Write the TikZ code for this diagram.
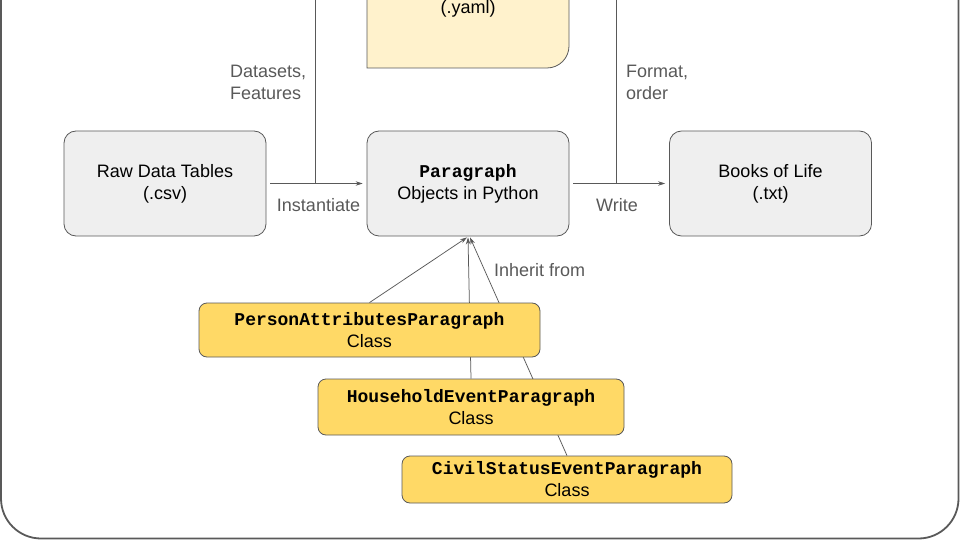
\documentclass[tikz,border=0pt]{standalone}
\usepackage{fontspec}
\setmainfont{Liberation Sans}
\setmonofont{Liberation Mono}
\usetikzlibrary{arrows.meta,backgrounds,calc}
\definecolor{lineC}{HTML}{595959}
\definecolor{grayF}{HTML}{EFEFEF}
\definecolor{yelF}{HTML}{FFD966}
\definecolor{paleF}{HTML}{FFF2CC}
\tikzset{
  graybox/.style={draw=lineC, fill=grayF, rounded corners=12pt, minimum width=202pt, minimum height=105pt, align=center, line width=0.8pt, text=black, inner sep=0pt},
  classbox/.style={draw=lineC, fill=yelF, rounded corners=8pt, align=center, line width=0.8pt, text=black, inner sep=0pt},
  lbl/.style={text=lineC, inner sep=0pt},
  conn/.style={draw=lineC, line width=0.75pt},
  arr/.style={conn, -{Stealth[length=7pt,width=4.5pt]}},
}
\begin{document}
\begin{tikzpicture}[x=1pt,y=-1pt, font=\fontsize{18}{22}\selectfont]
\useasboundingbox (0,0) rectangle (960,540);
\clip (0,0) rectangle (960,540);
% outer frame
\draw[draw=lineC, line width=1.8pt, rounded corners=40pt] (1,-60) rectangle (958.5,538.5);
% yaml box
\path[draw=lineC, fill=paleF, line width=0.8pt] (367,-10) -- (367,68) -- (547,68) arc[start angle=90, end angle=0, radius=22] -- (569,-10) -- cycle;
\node[text=black, inner sep=0pt] (yaml) at (468,8.5) {(.yaml)};
% main boxes
\node[graybox] (raw) at (165,183.5) {Raw Data Tables\\(.csv)};
\node[graybox] (para) at (468,183.5) {\texttt{\bfseries Paragraph}\\Objects in Python};
\node[graybox] (books) at (770.5,183.5) {Books of Life\\(.txt)};
% class boxes
\node[classbox, minimum width=341pt, minimum height=54pt] (pa) at (369.5,330) {\texttt{\bfseries PersonAttributesParagraph}\\Class};
\node[classbox, minimum width=306pt, minimum height=56pt] (he) at (471,407) {\texttt{\bfseries HouseholdEventParagraph}\\Class};
\node[classbox, minimum width=330pt, minimum height=47pt] (cs) at (567,479.5) {\texttt{\bfseries CivilStatusEventParagraph}\\Class};
% connectors
\begin{scope}[on background layer]
\draw[arr] (pa.north) -- ($(para.south)+(-1,1)$);
\draw[arr] (he.north) -- ($(para.south)+(0,1)$);
\draw[arr] (cs.north) -- ($(para.south)+(2,1)$);
\end{scope}
\draw[arr, shorten <=4pt, shorten >=4pt] (raw.east) -- (para.west);
\draw[arr, shorten <=4pt, shorten >=4pt] (para.east) -- (books.west);
\coordinate (dtop) at (315,-5);
\coordinate (ftop) at (616,-5);
\draw[conn] (dtop) -- (dtop |- raw.east);
\draw[conn] (ftop) -- (ftop |- books.west);
% labels
\node[lbl, anchor=west, align=left] (dlbl) at (230,82) {Datasets,\\Features};
\node[lbl, anchor=west, align=left] (flbl) at (626,82) {Format,\\order};
\node[lbl] (ilbl) at (318.5,205) {Instantiate};
\node[lbl] (wlbl) at (617,205) {Write};
\node[lbl, anchor=west] (hlbl) at (494,270) {Inherit from};
\end{tikzpicture}
\end{document}
